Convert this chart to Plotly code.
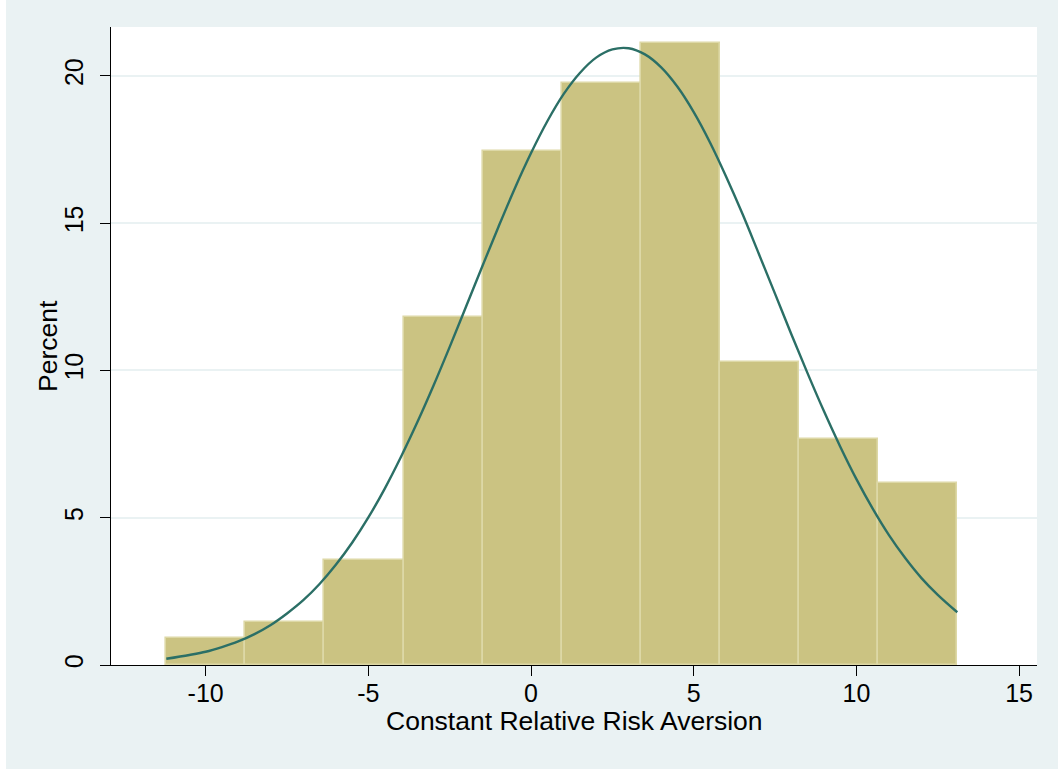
import plotly.graph_objects as go

# Histogram bins (percent)
bin_left_edges = [-11.21, -8.78, -6.35, -3.92, -1.49, 0.94, 3.37, 5.80, 8.23, 10.67]
bin_width = 2.431
bin_percent = [0.91, 1.47, 3.56, 11.83, 17.45, 19.75, 21.10, 10.29, 7.67, 6.17]

# Normal density overlay
curve_x = [-11.21, -10.5, -10, -9.5, -9, -8.5, -8, -7.5, -7, -6.5, -6, -5.5, -5,
           -4.5, -4, -3.5, -3, -2.5, -2, -1.5, -1, -0.5, 0, 0.5, 1, 1.5, 2, 2.5,
           3, 3.5, 4, 4.5, 5, 5.5, 6, 6.5, 7, 7.5, 8, 8.5, 9, 9.5, 10,
           10.5, 11, 11.5, 12, 12.5, 13.10]
curve_y = [0.21, 0.34, 0.45, 0.61, 0.80, 1.05, 1.36, 1.75, 2.20, 2.75, 3.40,
           4.15, 5.01, 5.98, 7.06, 8.23, 9.48, 10.80, 12.16, 13.53, 14.88, 16.18,
           17.38, 18.46, 19.38, 20.10, 20.62, 20.90, 20.94, 20.73, 20.29,
           19.63, 18.77, 17.74, 16.57, 15.31, 13.96, 12.60, 11.23, 9.90, 8.62,
           7.42, 6.31, 5.31, 4.41, 3.63, 2.95, 2.38, 1.79]

x_ticks = [-10, -5, 0, 5, 10, 15]
y_ticks = [0, 5, 10, 15, 20]

bar_centers = [e + bin_width / 2 for e in bin_left_edges]

BG = "#EAF2F3"
FONT = "Liberation Sans, Arial, sans-serif"

fig = go.Figure()
fig.add_trace(go.Bar(
    x=bar_centers, y=bin_percent, width=bin_width,
    marker=dict(color="#CBC382", line=dict(color="#DDD8A6", width=1.6)),
    showlegend=False, hoverinfo="x+y",
))
fig.add_trace(go.Scatter(
    x=curve_x, y=curve_y, mode="lines",
    line=dict(color="#2B6F66", width=2.4, shape="spline", smoothing=1.0,
              simplify=False),
    showlegend=False,
))

# page offset: figure starts at 6px from the left, 0px from the top
fig.update_layout(
    width=1058, height=769,
    margin=dict(l=105, r=1058 - 105 - 926, t=27, b=769 - 27 - 638),
    paper_bgcolor=BG, plot_bgcolor="white",
    font=dict(family=FONT, color="black", size=25),
    bargap=0,
)
fig.update_xaxes(
    range=[-12.91, 15.55], tickmode="array", tickvals=x_ticks,
    ticktext=[str(v) for v in x_ticks],
    showgrid=False, zeroline=False,
    showline=True, linecolor="black", linewidth=1.4,
    ticks="outside", ticklen=10, tickwidth=1.4, tickcolor="black",
    tickfont=dict(size=25), ticklabelstandoff=-4,
)
fig.update_yaxes(
    range=[0, 21.66], tickmode="array", tickvals=y_ticks,
    ticktext=[str(v) for v in y_ticks], tickangle=-90,
    showgrid=True, gridcolor=BG, gridwidth=1.6, zeroline=False,
    showline=True, linecolor="black", linewidth=1.4,
    ticks="outside", ticklen=10, tickwidth=1.4, tickcolor="black",
    tickfont=dict(size=25), ticklabelstandoff=7,
)
fig.add_annotation(
    text="Constant Relative Risk Aversion", xref="paper", yref="paper",
    x=0.5, y=0, xanchor="center", yanchor="middle", yshift=-56,
    showarrow=False, font=dict(size=26.5),
)
fig.add_annotation(
    text="Percent", xref="paper", yref="paper",
    x=0, y=0.5, xanchor="center", yanchor="middle", xshift=-63, textangle=-90,
    showarrow=False, font=dict(size=26.5),
)

fig.write_html("out.html",
               post_script="document.body.style.margin='0px 0px 0px 6px';")
